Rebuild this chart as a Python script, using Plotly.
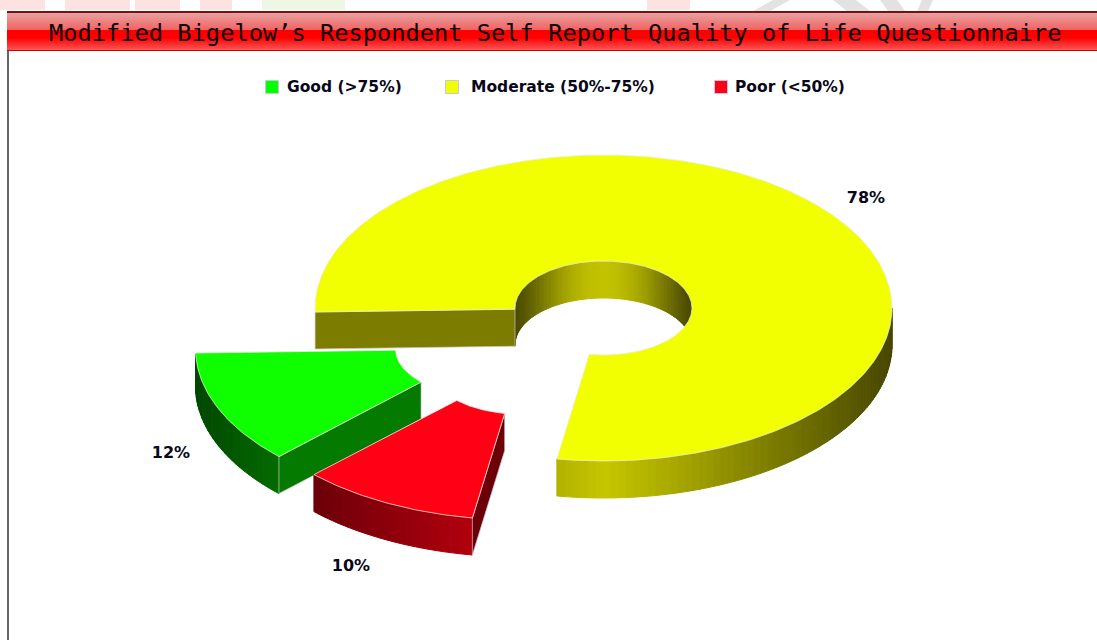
import numpy as np
import plotly.graph_objects as go

# Data
categories = ["Good (>75%)", "Moderate (50%-75%)", "Poor (<50%)"]
values = [12, 78, 10]
top_colors = {"Good (>75%)": "#10ff00", "Moderate (50%-75%)": "#f2ff00", "Poor (<50%)": "#ff0014"}
legend_colors = ["#00ff00", "#f2ff00", "#ff0014"]
wall_rgb = {"Good (>75%)": (10, 255, 0), "Moderate (50%-75%)": (255, 255, 0), "Poor (<50%)": (255, 0, 20)}
title_text = "Modified Bigelow\u2019s Respondent Self Report Quality of Life Questionnaire"

# Geometry of the exploded 3-D ring (pixel-scaled axes)
RX, RY = 288.5, 153
IX, IY = 88.5, 47
DEPTH = 37
START = 268.5
centers = {"Moderate (50%-75%)": (603.5, 308), "Poor (<50%)": (519, 367), "Good (>75%)": (484, 349)}
label_pos = {"Moderate (50%-75%)": (866, 199), "Poor (<50%)": (351, 567), "Good (>75%)": (171, 454)}
legend_x = [272, 452, 721]
legend_text_x = [287, 471, 735]
FONT = "DejaVu Sans"
TITLE_FONT = "DejaVu Sans Mono"

spans = {c: v * 3.6 for c, v in zip(categories, values)}
# clockwise from START: Moderate, Poor, Good
angles = {}
a = START
for c in ["Moderate (50%-75%)", "Poor (<50%)", "Good (>75%)"]:
    angles[c] = (a, a + spans[c])
    a += spans[c]


def pt(c, th, rx, ry, dz=0):
    cx, cy = centers[c]
    t = np.radians(th)
    return cx + rx * np.sin(t), cy - ry * np.cos(t) + dz


def shade(rgb, b):
    return "rgb(%d,%d,%d)" % tuple(int(v * b) for v in rgb)


def wall_b(th):
    return 0.28 + 0.5 * (1 - abs(np.sin(np.radians(th))))


fig = go.Figure()


def poly(xs, ys, fill, line=None, width=1):
    fig.add_trace(go.Scatter(x=list(xs), y=list(ys), mode="lines", fill="toself", fillcolor=fill,
                             line=dict(color=line or fill, width=width), hoverinfo="skip", showlegend=False))


def curved_wall(c, a0, a1, rx, ry, bright):
    n = max(2, int(abs(a1 - a0) / 1.5))
    th = np.linspace(a0, a1, n + 1)
    for i in range(n):
        ts = np.linspace(th[i], th[i + 1], 3)
        x, y = pt(c, ts, rx, ry)
        x2, y2 = pt(c, ts[::-1], rx, ry, DEPTH)
        poly(np.r_[x, x2, x[0]], np.r_[y, y2, y[0]],
             shade(wall_rgb[c], bright((th[i] + th[i + 1]) / 2)))


def flat_wall(c, th, b):
    x1, y1 = pt(c, th, RX, RY)
    x2, y2 = pt(c, th, IX, IY)
    x3, y3 = pt(c, th, IX, IY, DEPTH)
    x4, y4 = pt(c, th, RX, RY, DEPTH)
    poly([x1, x2, x3, x4, x1], [y1, y2, y3, y4, y1], shade(wall_rgb[c], b), "rgba(200,200,200,0.7)")


def top(c):
    a0, a1 = angles[c]
    n = int(abs(a1 - a0) * 1.5) + 2
    ts = np.linspace(a0, a1, n)
    x, y = pt(c, ts, RX, RY)
    x2, y2 = pt(c, ts[::-1], IX, IY)
    poly(np.r_[x, x2, x[0]], np.r_[y, y2, y[0]], top_colors[c], "rgba(235,235,225,0.75)")


# Moderate slice: hole wall, outer wall, cut face, top
m = "Moderate (50%-75%)"
a0, a1 = angles[m]
curved_wall(m, a0, 450, IX, IY, lambda t: 0.3 + 0.46 * abs(np.cos(np.radians(t))) ** 3)
curved_wall(m, 450, a1, RX, RY, wall_b)
flat_wall(m, a0, 0.49)
top(m)

# Good slice
g = "Good (>75%)"
a0, a1 = angles[g]
curved_wall(g, a0, a1, RX, RY, wall_b)
flat_wall(g, a0, 0.48)
top(g)

# Poor slice
p = "Poor (<50%)"
a0, a1 = angles[p]
curved_wall(p, a0, a1, RX, RY, wall_b)
flat_wall(p, a0, 0.42)
top(p)

# Value labels
for c, v in zip(categories, values):
    lx, ly = label_pos[c]
    fig.add_trace(go.Scatter(x=[lx], y=[ly], mode="text", text=[f"{v}%"], hoverinfo="skip", showlegend=False,
                             textfont=dict(family=FONT, size=16, color="#08081a", weight="bold")))

# Legend
fig.add_trace(go.Scatter(x=legend_x, y=[87] * 3, mode="markers", hoverinfo="skip", showlegend=False,
                         marker=dict(symbol="square", size=13, color=legend_colors,
                                     line=dict(color="#c8c8d8", width=1))))
fig.add_trace(go.Scatter(x=legend_text_x, y=[88] * 3, mode="text", text=categories,
                         textposition="middle right", hoverinfo="skip", showlegend=False,
                         textfont=dict(family=FONT, size=15.5, color="#08081a", weight="bold")))

# Background: banner and frame
shapes = []


def rect(x0, y0, x1, y1, color, layer="below"):
    shapes.append(dict(type="rect", xref="x", yref="y", x0=x0, y0=y0, x1=x1, y1=y1,
                       fillcolor=color, line=dict(width=0), layer=layer))


def skew(x0, x1, dx, color):
    shapes.append(dict(type="path", xref="x", yref="y", layer="below", fillcolor=color, line=dict(width=0),
                       path=f"M {x0} 0 L {x1} 0 L {x1 + dx} 11 L {x0 + dx} 11 Z"))


for x0, x1 in [(0, 45), (65, 130), (135, 180), (200, 232), (647, 690)]:
    rect(x0, 0, x1, 10, "#fde2e2")
rect(262, 0, 345, 10, "#eef7e4")
skew(773, 790, -20, "#e2e2e2")
skew(833, 856, 14, "#e2e2e2")
skew(880, 897, 8, "#e2e2e2")
skew(922, 933, -5, "#e2e2e2")
rect(7, 11, 1097, 13, "#7a1010")
band_top = np.array([232, 160, 160])
band_mid = np.array([244, 96, 96])
for yy in range(13, 50):
    if yy < 30:
        col = band_top + (band_mid - band_top) * (yy - 13) / 17
    elif yy < 37:
        col = np.array([255, 0, 0])
    else:
        col = np.array([255, 0, 0]) + np.array([-6, 90, 90]) * (yy - 37) / 13
    rect(7, yy, 1097, yy + 1, "rgb(%d,%d,%d)" % tuple(int(v) for v in col))
rect(7, 50, 1097, 51, "#d00000")
rect(7, 51, 9, 640, "#666666")

fig.add_annotation(x=555, y=33, xref="x", yref="y", text=title_text, showarrow=False,
                   font=dict(family=TITLE_FONT, size=23.7, color="#0c0408"))

fig.update_layout(width=1097, height=640, margin=dict(l=0, r=0, t=0, b=0), paper_bgcolor="white",
                  plot_bgcolor="white", showlegend=False, shapes=shapes,
                  xaxis=dict(range=[0, 1097], visible=False, fixedrange=True),
                  yaxis=dict(range=[640, 0], visible=False, fixedrange=True))
fig.write_html("out.html", config={"displayModeBar": False},
               post_script="document.body.style.margin='0';document.body.style.overflow='hidden';")
